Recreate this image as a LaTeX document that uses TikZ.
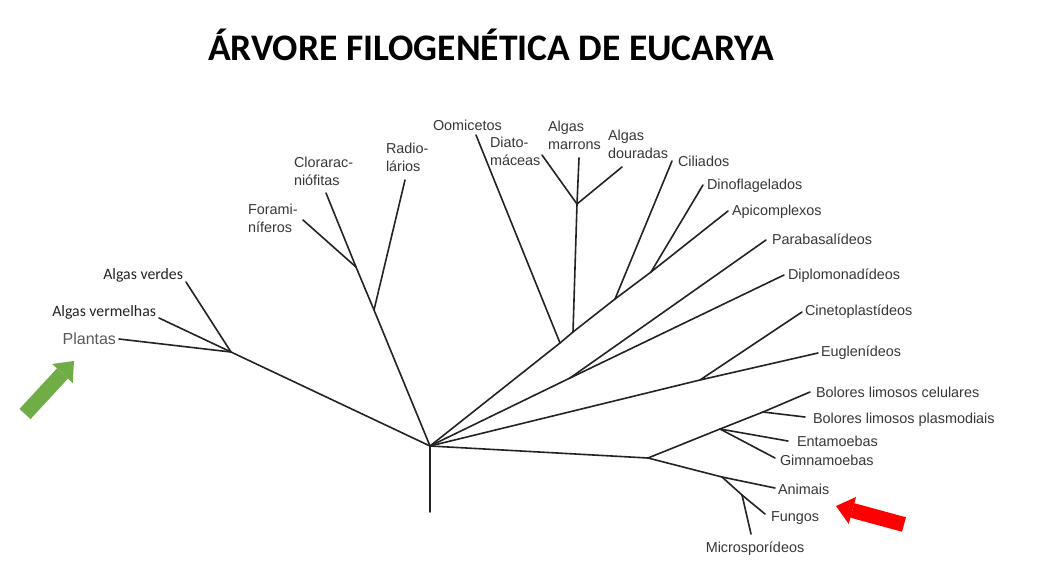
\documentclass[tikz,border=0pt]{standalone}
\usepackage{fontspec}
\setmainfont{Liberation Sans}
\newfontfamily\calfont{Carlito}
\usetikzlibrary{arrows.meta}

\begin{document}
\begin{tikzpicture}[x=1pt,y=-1pt,
  ramo/.style={draw={rgb,255:red,35;green,35;blue,35},line width=1.6pt,line cap=round},
  rotulo/.style={inner sep=0pt,outer sep=0pt,text={rgb,255:red,55;green,55;blue,55},font=\fontsize{14.4}{18}\selectfont},
  rotuloesq/.style={inner sep=0pt,outer sep=0pt,text={rgb,255:red,35;green,35;blue,35},font=\calfont\fontsize{15.8}{18}\selectfont},
  seta/.style={line width=15pt,-{Triangle[width=28pt,length=17pt,line width=0pt]}}]
\path[use as bounding box] (0,0) rectangle (1044,570);
\path[fill=white,draw=none] (0,0) rectangle (1044,570);
\node[inner sep=0pt,outer sep=0pt,anchor=base,font=\calfont\bfseries\fontsize{37.5}{45}\selectfont] (titulo) at (491,60) {ÁRVORE FILOGENÉTICA DE EUCARYA};
\coordinate (raiz) at (430,446);
\coordinate (base) at (430,512);
\coordinate (jplant) at (231,352);
\coordinate (jradio) at (374,310);
\coordinate (jcloro) at (356,267);
\coordinate (joomi) at (560,343);
\coordinate (jalgas) at (573,332);
\coordinate (jtopo) at (577,204);
\coordinate (jcilia) at (615,299);
\coordinate (jdino) at (651,272);
\coordinate (jpara) at (570,378);
\coordinate (jcine) at (700,380);
\coordinate (jopis) at (648,458);
\coordinate (jentam) at (720,429);
\coordinate (jbolor) at (763,412);
\coordinate (janim) at (722,477);
\coordinate (jfung) at (742,495);
\coordinate (fverdes) at (186,282);
\coordinate (fvermel) at (159,318);
\coordinate (fplant) at (119,339);
\coordinate (fradio) at (405,180);
\coordinate (fcloro) at (326,193);
\coordinate (fforam) at (303,220);
\coordinate (foomi) at (476,135);
\coordinate (fdiato) at (542,155);
\coordinate (fmarr) at (579,158);
\coordinate (fdour) at (622,167);
\coordinate (fcilia) at (672,161);
\coordinate (fdino) at (703,185);
\coordinate (fapic) at (728,211);
\coordinate (fpara) at (766,240);
\coordinate (fdipl) at (784,275);
\coordinate (fcine) at (802,312);
\coordinate (feugl) at (818,353);
\coordinate (fbcel) at (810,392);
\coordinate (fbpla) at (805,417);
\coordinate (fentam) at (788,441);
\coordinate (fgimn) at (775,458);
\coordinate (fanim) at (775,488);
\coordinate (ffung) at (765,514);
\coordinate (fmicr) at (751,534);
\draw[ramo] (base) -- (raiz);
\draw[ramo] (raiz) -- (jplant);
\draw[ramo] (jplant) -- (fverdes);
\draw[ramo] (jplant) -- (fvermel);
\draw[ramo] (jplant) -- (fplant);
\draw[ramo] (raiz) -- (jradio) -- (jcloro) -- (fcloro);
\draw[ramo] (jradio) -- (fradio);
\draw[ramo] (jcloro) -- (fforam);
\draw[ramo] (raiz) -- (joomi) -- (jalgas) -- (jcilia) -- (jdino) -- (fapic);
\draw[ramo] (joomi) -- (foomi);
\draw[ramo] (jalgas) -- (jtopo);
\draw[ramo] (jtopo) -- (fdiato);
\draw[ramo] (jtopo) -- (fmarr);
\draw[ramo] (jtopo) -- (fdour);
\draw[ramo] (jcilia) -- (fcilia);
\draw[ramo] (jdino) -- (fdino);
\draw[ramo] (raiz) -- (jpara) -- (fdipl);
\draw[ramo] (jpara) -- (fpara);
\draw[ramo] (raiz) -- (jcine) -- (feugl);
\draw[ramo] (jcine) -- (fcine);
\draw[ramo] (raiz) -- (jopis);
\draw[ramo] (jopis) -- (jentam) -- (jbolor) -- (fbcel);
\draw[ramo] (jbolor) -- (fbpla);
\draw[ramo] (jentam) -- (fentam);
\draw[ramo] (jentam) -- (fgimn);
\draw[ramo] (jopis) -- (janim) -- (fanim);
\draw[ramo] (janim) -- (jfung) -- (ffung);
\draw[ramo] (jfung) -- (fmicr);
\node[rotuloesq,anchor=east] (verdes) at (183,275) {Algas verdes};
\node[rotuloesq,anchor=east] (vermelhas) at (156,312) {Algas vermelhas};
\node[inner sep=0pt,outer sep=0pt,anchor=east,text={rgb,255:red,89;green,89;blue,89},font=\fontsize{16}{19}\selectfont] (plantas) at (116,339) {Plantas};
\node[rotulo,anchor=north west,align=left] (foram) at (248,204) {Forami-\\níferos};
\node[rotulo,anchor=north west,align=left] (cloro) at (294,157) {Clorarac-\\niófitas};
\node[rotulo,anchor=north west,align=left] (radio) at (386,143) {Radio-\\lários};
\node[rotulo,anchor=west] (oomi) at (433,125) {Oomicetos};
\node[rotulo,anchor=north west,align=left] (diato) at (490,137) {Diato-\\máceas};
\node[rotulo,anchor=north west,align=left] (marrons) at (548,121) {Algas\\marrons};
\node[rotulo,anchor=north west,align=left] (douradas) at (608,130) {Algas\\douradas};
\node[rotulo,anchor=west] (cilia) at (678,161) {Ciliados};
\node[rotulo,anchor=west] (dino) at (707,186) {Dinoflagelados};
\node[rotulo,anchor=west] (apic) at (732,212) {Apicomplexos};
\node[rotulo,anchor=west] (para) at (772,239) {Parabasalídeos};
\node[rotulo,anchor=west] (dipl) at (788,276) {Diplomonadídeos};
\node[rotulo,anchor=west] (cine) at (805,312) {Cinetoplastídeos};
\node[rotulo,anchor=west] (eugl) at (821,353) {Euglenídeos};
\node[rotulo,anchor=west] (bcel) at (816,392) {Bolores limosos celulares};
\node[rotulo,anchor=west] (bpla) at (813,420) {Bolores limosos plasmodiais};
\node[rotulo,anchor=west] (entam) at (797,441) {Entamoebas};
\node[rotulo,anchor=west] (gimn) at (780,460) {Gimnamoebas};
\node[rotulo,anchor=west] (anim) at (778,489) {Animais};
\node[rotulo,anchor=west] (fung) at (771,518) {Fungos};
\node[rotulo] (micr) at (755,549) {Microsporídeos};
\coordinate (verdeini) at (25,414);
\coordinate (verdefim) at (74,361);
\coordinate (vermini) at (904,524.5);
\coordinate (vermfim) at (836,506);
\draw[seta,draw={rgb,255:red,112;green,173;blue,71}] (verdeini) -- (verdefim);
\draw[seta,draw={rgb,255:red,255;green,0;blue,0}] (vermini) -- (vermfim);
\end{tikzpicture}
\end{document}
